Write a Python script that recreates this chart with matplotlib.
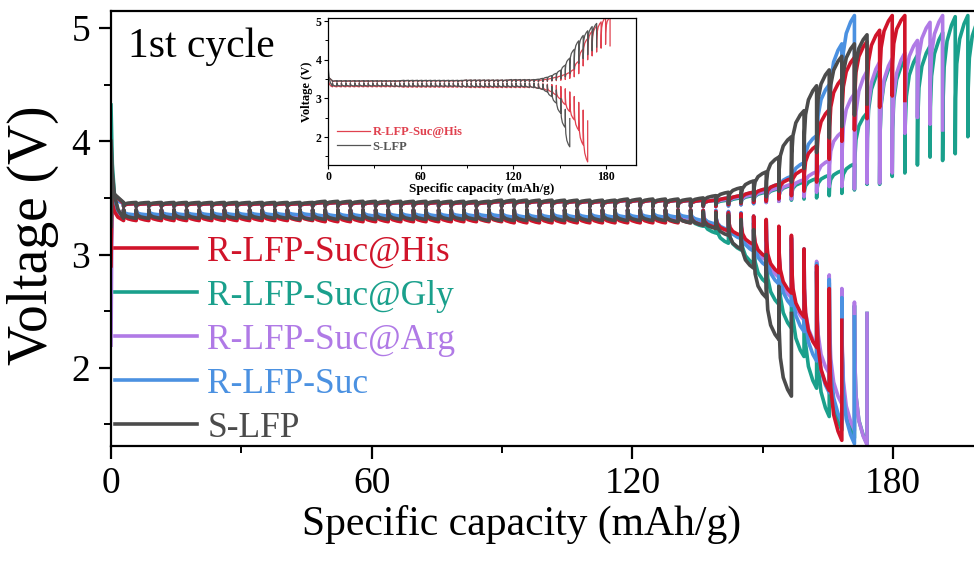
import matplotlib
matplotlib.use("Agg")
import matplotlib.pyplot as plt
from matplotlib.ticker import MultipleLocator

plt.rcParams['font.family'] = ['Liberation Serif', 'DejaVu Serif']

# GITT pulse size (mAh/g per current pulse)
STEP = 2.9

# within-pulse shape: fraction of pulse vs fraction of the jump to the loaded voltage
PULSE_F = [0.0, 0.03, 0.12, 0.35, 0.7, 1.0]
PULSE_G = [0.0, 0.4, 0.65, 0.83, 0.94, 1.0]

chg_head_cap = [0.0, 0.25]
dis_head_cap = [0.0, 0.3, 0.8, 1.6, 2.5]

# plateau parts shared by the charge / discharge traces
chg_plateau_a = [3.46] * 16 + [3.47] * 14 + [3.48] * 10 + [3.49] * 6
chg_plateau_b = [3.45] * 16 + [3.46] * 14 + [3.47] * 10 + [3.48] * 8
chg_rest = [3.425] * 48
dis_rest = [3.395] * 46

# ---- S-LFP ----
slfp_chg_head = [3.25, 3.55]
slfp_chg_ccv = chg_plateau_a + [3.50, 3.52, 3.55, 3.59, 3.65, 3.73, 3.86, 4.04, 4.27, 4.49,
                                4.63, 4.75, 4.86, 4.94]
slfp_chg_ocv = chg_rest[:46] + [3.43, 3.44, 3.45, 3.46, 3.48, 3.51, 3.56, 3.64, 3.76, 3.90,
                                4.03, 4.13, 4.23, 4.33]
slfp_dis_head = [4.00, 3.72, 3.52, 3.40, 3.34]
slfp_dis_ccv = [3.32] * 14 + [3.31] * 15 + [3.30] * 15 + [3.29, 3.28, 3.26, 3.23, 3.17,
                                                          3.05, 2.88, 2.62, 2.25, 1.75]
slfp_dis_ocv = dis_rest[:44] + [3.39, 3.39, 3.38, 3.37, 3.35, 3.31, 3.22, 3.00, 2.72, 2.48]

# ---- R-LFP-Suc@His ----
his_chg_head = [2.90, 3.55]
his_chg_ccv = chg_plateau_b + [3.50, 3.52, 3.55, 3.58, 3.62, 3.67, 3.75, 3.96, 4.28, 4.55,
                               4.74, 4.88, 4.98, 5.11, 5.11]
his_chg_ocv = chg_rest + [3.44, 3.45, 3.46, 3.47, 3.49, 3.52, 3.56, 3.64, 3.84, 4.00,
                          4.10, 4.20, 4.30, 4.40, 4.36]
his_dis_head = [3.58, 3.45, 3.38, 3.33, 3.31]
his_dis_ccv = [3.30] * 16 + [3.29] * 15 + [3.28] * 15 + [3.26, 3.24, 3.21, 3.17, 3.09,
                                                          2.98, 2.84, 2.66, 2.45, 2.18,
                                                          1.80, 1.36]
his_dis_ocv = dis_rest + [3.39, 3.38, 3.37, 3.36, 3.34, 3.31, 3.25, 3.17, 3.05, 2.90,
                          2.70, 2.42]

# ---- R-LFP-Suc@Gly ----
gly_chg_head = [3.00, 3.55]
gly_chg_ccv = chg_plateau_b + [3.48, 3.50, 3.52, 3.55, 3.58, 3.61, 3.64, 3.67, 3.70, 3.74,
                               3.80, 4.25, 4.63, 4.70, 4.72, 4.76, 4.84, 4.96, 5.10, 5.11, 5.11]
gly_chg_ocv = chg_rest + [3.43, 3.44, 3.45, 3.46, 3.47, 3.48, 3.49, 3.50, 3.52, 3.54,
                          3.57, 3.62, 3.62, 3.69, 3.72, 3.79, 3.86, 3.83, 3.89, 4.04, 4.10]
gly_dis_head = [4.32, 3.80, 3.52, 3.38, 3.34]
gly_dis_ccv = [3.33] * 16 + [3.32] * 15 + [3.31] * 15 + [3.25, 3.19, 3.10, 3.04, 2.92,
                                                          2.75, 2.56, 2.35, 2.10, 1.82,
                                                          1.57, 1.45, 1.38, 1.33]
gly_dis_ocv = dis_rest + [3.39, 3.38, 3.36, 3.33, 3.28, 3.22, 3.15, 3.05, 2.95, 2.85,
                          2.75, 2.65, 2.55, 2.48]

# ---- R-LFP-Suc@Arg ----
arg_chg_head = [2.20, 3.50]
arg_chg_ccv = chg_plateau_b + [3.49, 3.51, 3.53, 3.56, 3.59, 3.62, 3.66, 3.73, 3.83, 4.08,
                               4.42, 4.62, 4.70, 4.73, 4.78, 4.89, 5.05, 5.11]
arg_chg_ocv = chg_rest + [3.43, 3.44, 3.45, 3.46, 3.47, 3.49, 3.51, 3.55, 3.60, 3.60,
                          3.58, 3.63, 3.63, 3.72, 4.07, 4.21, 4.15, 4.10]
arg_dis_head = [3.50, 3.42, 3.38, 3.35, 3.34]
arg_dis_ccv = [3.34] * 16 + [3.33] * 15 + [3.32] * 15 + [3.29, 3.26, 3.21, 3.15, 3.06,
                                                          2.95, 2.80, 2.62, 2.42, 2.20,
                                                          1.95, 1.68, 1.45, 1.32]
arg_dis_ocv = dis_rest + [3.39, 3.39, 3.38, 3.36, 3.33, 3.29, 3.22, 3.14, 3.04, 2.94,
                          2.82, 2.70, 2.58, 2.48]

# ---- R-LFP-Suc ----
suc_chg_head = [3.10, 3.50]
suc_chg_ccv = chg_plateau_b + [3.50, 3.52, 3.55, 3.58, 3.62, 3.69, 3.81, 4.05, 4.50, 4.86, 5.11]
suc_chg_ocv = chg_rest + [3.43, 3.44, 3.45, 3.47, 3.49, 3.53, 3.60, 3.72, 3.92, 4.18, 4.30]
suc_dis_head = [3.66, 3.50, 3.42, 3.38, 3.36]
suc_dis_ccv = [3.35] * 16 + [3.34] * 15 + [3.33] * 15 + [3.30, 3.27, 3.22, 3.14, 3.03,
                                                          2.90, 2.74, 2.55, 2.32, 2.06,
                                                          1.78, 1.52, 1.33]
suc_dis_ocv = dis_rest + [3.39, 3.39, 3.38, 3.37, 3.34, 3.30, 3.24, 3.15, 3.05, 2.92,
                          2.78, 2.62, 2.45]

labels = ['R-LFP-Suc@His', 'R-LFP-Suc@Gly', 'R-LFP-Suc@Arg', 'R-LFP-Suc', 'S-LFP']
colors = ['#d0142a', '#1aa08c', '#b07ae6', '#4b91e1', '#4b4b4b']


def gitt_trace(head_cap, head_v, ccv, ocv):
    """Voltage trace of one GITT half-cycle: loaded voltage during each
    pulse followed by the vertical relaxation to the rest voltage."""
    x, y = list(head_cap), list(head_v)
    for k, (v, r) in enumerate(zip(ccv, ocv)):
        c0, c1 = k * STEP, (k + 1) * STEP
        if k == 0:
            x.append(c1)
            y.append(v)
        else:
            r0 = ocv[k - 1]
            for f, g in zip(PULSE_F, PULSE_G):
                x.append(c0 + f * STEP)
                y.append(r0 + g * (v - r0))
        x.append(c1)
        y.append(r)
    return x, y


series = {
    'R-LFP-Suc@His': (his_chg_head, his_chg_ccv, his_chg_ocv, his_dis_head, his_dis_ccv, his_dis_ocv),
    'R-LFP-Suc@Gly': (gly_chg_head, gly_chg_ccv, gly_chg_ocv, gly_dis_head, gly_dis_ccv, gly_dis_ocv),
    'R-LFP-Suc@Arg': (arg_chg_head, arg_chg_ccv, arg_chg_ocv, arg_dis_head, arg_dis_ccv, arg_dis_ocv),
    'R-LFP-Suc': (suc_chg_head, suc_chg_ccv, suc_chg_ocv, suc_dis_head, suc_dis_ccv, suc_dis_ocv),
    'S-LFP': (slfp_chg_head, slfp_chg_ccv, slfp_chg_ocv, slfp_dis_head, slfp_dis_ccv, slfp_dis_ocv),
}

fig = plt.figure(figsize=(9.74, 5.67), dpi=100)
ax = fig.add_axes([111 / 974, 121 / 567, 869 / 974, 435 / 567])

draw_order = ['R-LFP-Suc@Gly', 'R-LFP-Suc@Arg', 'R-LFP-Suc', 'R-LFP-Suc@His', 'S-LFP']
handles = {}
for name in draw_order:
    col = colors[labels.index(name)]
    ch, cc, co, dh, dc, do = series[name]
    xc, yc = gitt_trace(chg_head_cap, ch, cc, co)
    xd, yd = gitt_trace(dis_head_cap, dh, dc, do)
    ax.plot(xd, yd, color=col, lw=2.6)
    handles[name], = ax.plot(xc, yc, color=col, lw=2.6)

ax.set_xlim(0, 200)
ax.set_ylim(1.31, 5.15)
ax.xaxis.set_major_locator(MultipleLocator(60))
ax.xaxis.set_minor_locator(MultipleLocator(30))
ax.yaxis.set_major_locator(MultipleLocator(1))
ax.yaxis.set_minor_locator(MultipleLocator(0.5))
ax.tick_params(which='major', direction='out', length=9, width=1.6, labelsize=27, pad=6)
ax.tick_params(which='minor', direction='out', length=5, width=1.4)
for sp in ax.spines.values():
    sp.set_linewidth(1.6)
ax.set_xlabel('Specific capacity (mAh/g)', fontsize=30)
ax.xaxis.set_label_coords(0.473, -0.135)
ax.set_ylabel('Voltage (V)', fontsize=40)
ax.yaxis.set_label_coords(-0.06, 0.485)

ax.text(128 / 974, 1 - 47 / 567, '1st cycle', transform=fig.transFigure,
        fontsize=30, va='center', ha='left')

leg = ax.legend([handles[n] for n in labels], labels, loc='upper left',
                bbox_to_anchor=(0.005, 0.483), frameon=False, fontsize=25.5,
                handlelength=2.3, handletextpad=0.3, labelspacing=0.31,
                borderaxespad=0.0, borderpad=0.0)
for txt, col in zip(leg.get_texts(), colors):
    txt.set_color(col)

# inset: His vs bare S-LFP
ins = fig.add_axes([328 / 974, 1 - 165 / 567, 308 / 974, 147 / 567])
inset_colors = {'R-LFP-Suc@His': '#e0414f', 'S-LFP': '#555555'}
in_handles = []
for name in ['R-LFP-Suc@His', 'S-LFP']:
    ch, cc, co, dh, dc, do = series[name]
    xc, yc = gitt_trace(chg_head_cap, ch, cc, co)
    xd, yd = gitt_trace(dis_head_cap, dh, dc, do)
    ins.plot(xd, yd, color=inset_colors[name], lw=0.9)
    h, = ins.plot(xc, yc, color=inset_colors[name], lw=0.9)
    in_handles.append(h)
ins.set_xlim(0, 199.5)
ins.set_ylim(1.28, 5.08)
ins.xaxis.set_major_locator(MultipleLocator(60))
ins.xaxis.set_minor_locator(MultipleLocator(30))
ins.yaxis.set_major_locator(MultipleLocator(1))
ins.yaxis.set_minor_locator(MultipleLocator(0.5))
ins.tick_params(which='major', direction='out', length=3, width=0.8, labelsize=8.5, pad=1.5)
ins.tick_params(which='minor', direction='out', length=2, width=0.7)
for lab in ins.get_xticklabels() + ins.get_yticklabels():
    lab.set_fontweight('bold')
for sp in ins.spines.values():
    sp.set_linewidth(0.9)
ins.set_xlabel('Specific capacity (mAh/g)', fontsize=9.5, fontweight='bold', labelpad=0)
ins.set_ylabel('Voltage (V)', fontsize=9, fontweight='bold', labelpad=2)
ileg = ins.legend(in_handles, ['R-LFP-Suc@His', 'S-LFP'], loc='lower left',
                  bbox_to_anchor=(0.01, 0.04), frameon=False, handlelength=2.6,
                  handletextpad=0.2, labelspacing=0.2, borderpad=0.0,
                  prop={'size': 9, 'weight': 'bold'})
for txt, col in zip(ileg.get_texts(), inset_colors.values()):
    txt.set_color(col)

fig.savefig('out.png', dpi=100)
